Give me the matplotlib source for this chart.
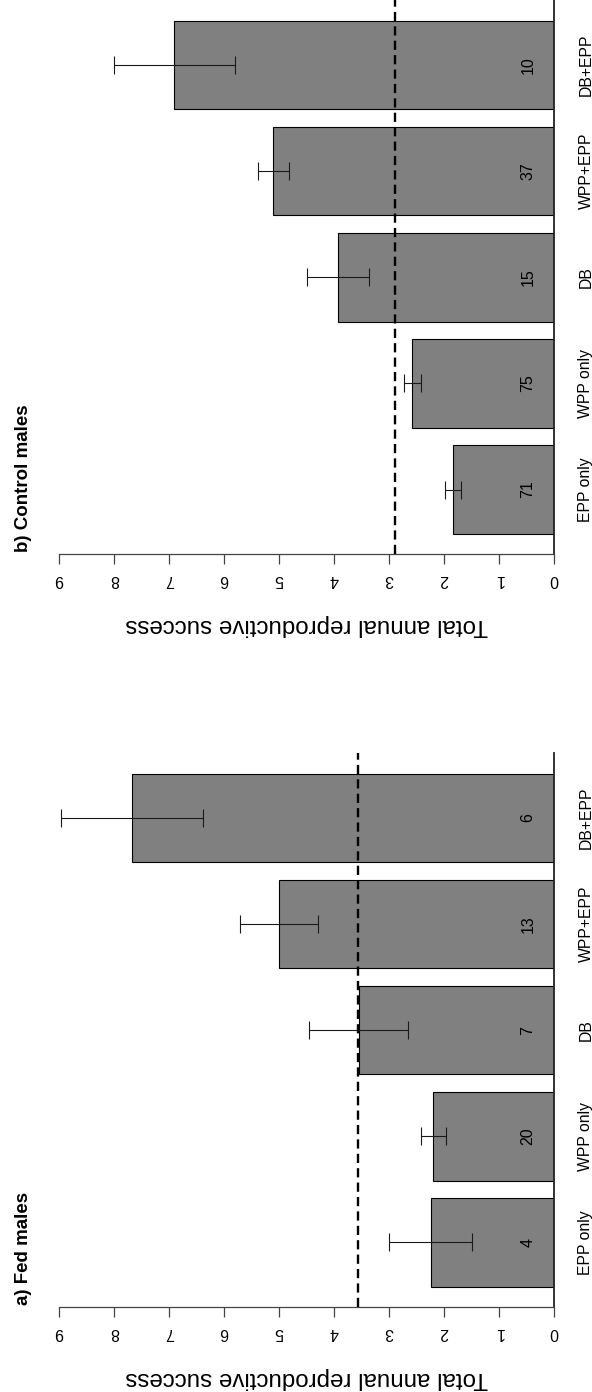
import matplotlib
matplotlib.use("Agg")
import matplotlib.pyplot as plt
from matplotlib.transforms import blended_transform_factory

plt.rcParams["font.family"] = ["Liberation Sans", "DejaVu Sans"]

categories = ["EPP only", "WPP only", "DB", "WPP+EPP", "DB+EPP"]

fed_mean = [2.25, 2.20, 3.56, 5.00, 7.68]
fed_se = [0.76, 0.23, 0.90, 0.71, 1.29]
fed_n = [4, 20, 7, 13, 6]
fed_overall = 3.57

ctrl_mean = [1.84, 2.58, 3.93, 5.11, 6.91]
ctrl_se = [0.14, 0.15, 0.56, 0.28, 1.10]
ctrl_n = [71, 75, 15, 37, 10]
ctrl_overall = 2.90

ticks = list(range(10))

# bar centres as in an R barplot (width 1, space 0.2)
pos = [0.7 + 1.2 * i for i in range(len(categories))]

fig = plt.figure(figsize=(5.92, 13.92), dpi=100)
W, H = 592, 1392


def panel(top_px, title, means, se, ns, overall):
    left, right = 59.3, 554.3
    bottom_px = top_px + 553.9
    ax = fig.add_axes([left / W, (H - bottom_px) / H, (right - left) / W, 553.9 / H])

    ax.barh(pos, means, height=1.0, color="#808080", edgecolor="black", linewidth=0.8, zorder=2)
    ax.errorbar(means, pos, xerr=se, fmt="none", ecolor="#1a1a1a", elinewidth=0.8,
                capsize=6.8, capthick=0.8, zorder=3)
    ax.axvline(overall, color="black", linewidth=1.7, linestyle=(0, (3.9, 2.2)), zorder=4)

    ax.set_xlim(9, 0)
    ax.set_ylim(-0.032, 6.232)

    for s in ["top", "left"]:
        ax.spines[s].set_visible(False)
    ax.spines["bottom"].set_color("#444444")
    ax.spines["bottom"].set_linewidth(0.9)
    ax.spines["right"].set_color("#222222")
    ax.spines["right"].set_linewidth(1.3)

    ax.set_xticks(ticks)
    ax.set_xticklabels([str(t) for t in ticks], rotation=180, fontsize=11.5)
    ax.tick_params(axis="x", direction="out", length=7.2, width=0.9, color="#444444", pad=5.5)
    ax.set_yticks([])

    ax.set_xlabel("Total annual reproductive success", fontsize=17.4, rotation=180)
    ax.xaxis.set_label_coords(0.5, -0.128)
    ax.xaxis.label.set_va("center")

    tr = blended_transform_factory(ax.transAxes, ax.transData)
    for p, lab in zip(pos, categories):
        ax.text(1.0731, p, lab, transform=tr, rotation=90, rotation_mode="anchor",
                ha="center", va="baseline", fontsize=11.3)
    for p, n in zip(pos, ns):
        ax.text(0.48, p, str(n), rotation=90, ha="center", va="center", fontsize=11.5, zorder=5)

    ax.text(-0.0632, 0.004, title, transform=ax.transAxes, rotation=90, rotation_mode="anchor",
            ha="left", va="baseline", fontsize=13.5, fontweight="bold")
    return ax


panel(753.3, "a) Fed males", fed_mean, fed_se, fed_n, fed_overall)
panel(0.4, "b) Control males", ctrl_mean, ctrl_se, ctrl_n, ctrl_overall)

fig.savefig("out.png", dpi=100)
